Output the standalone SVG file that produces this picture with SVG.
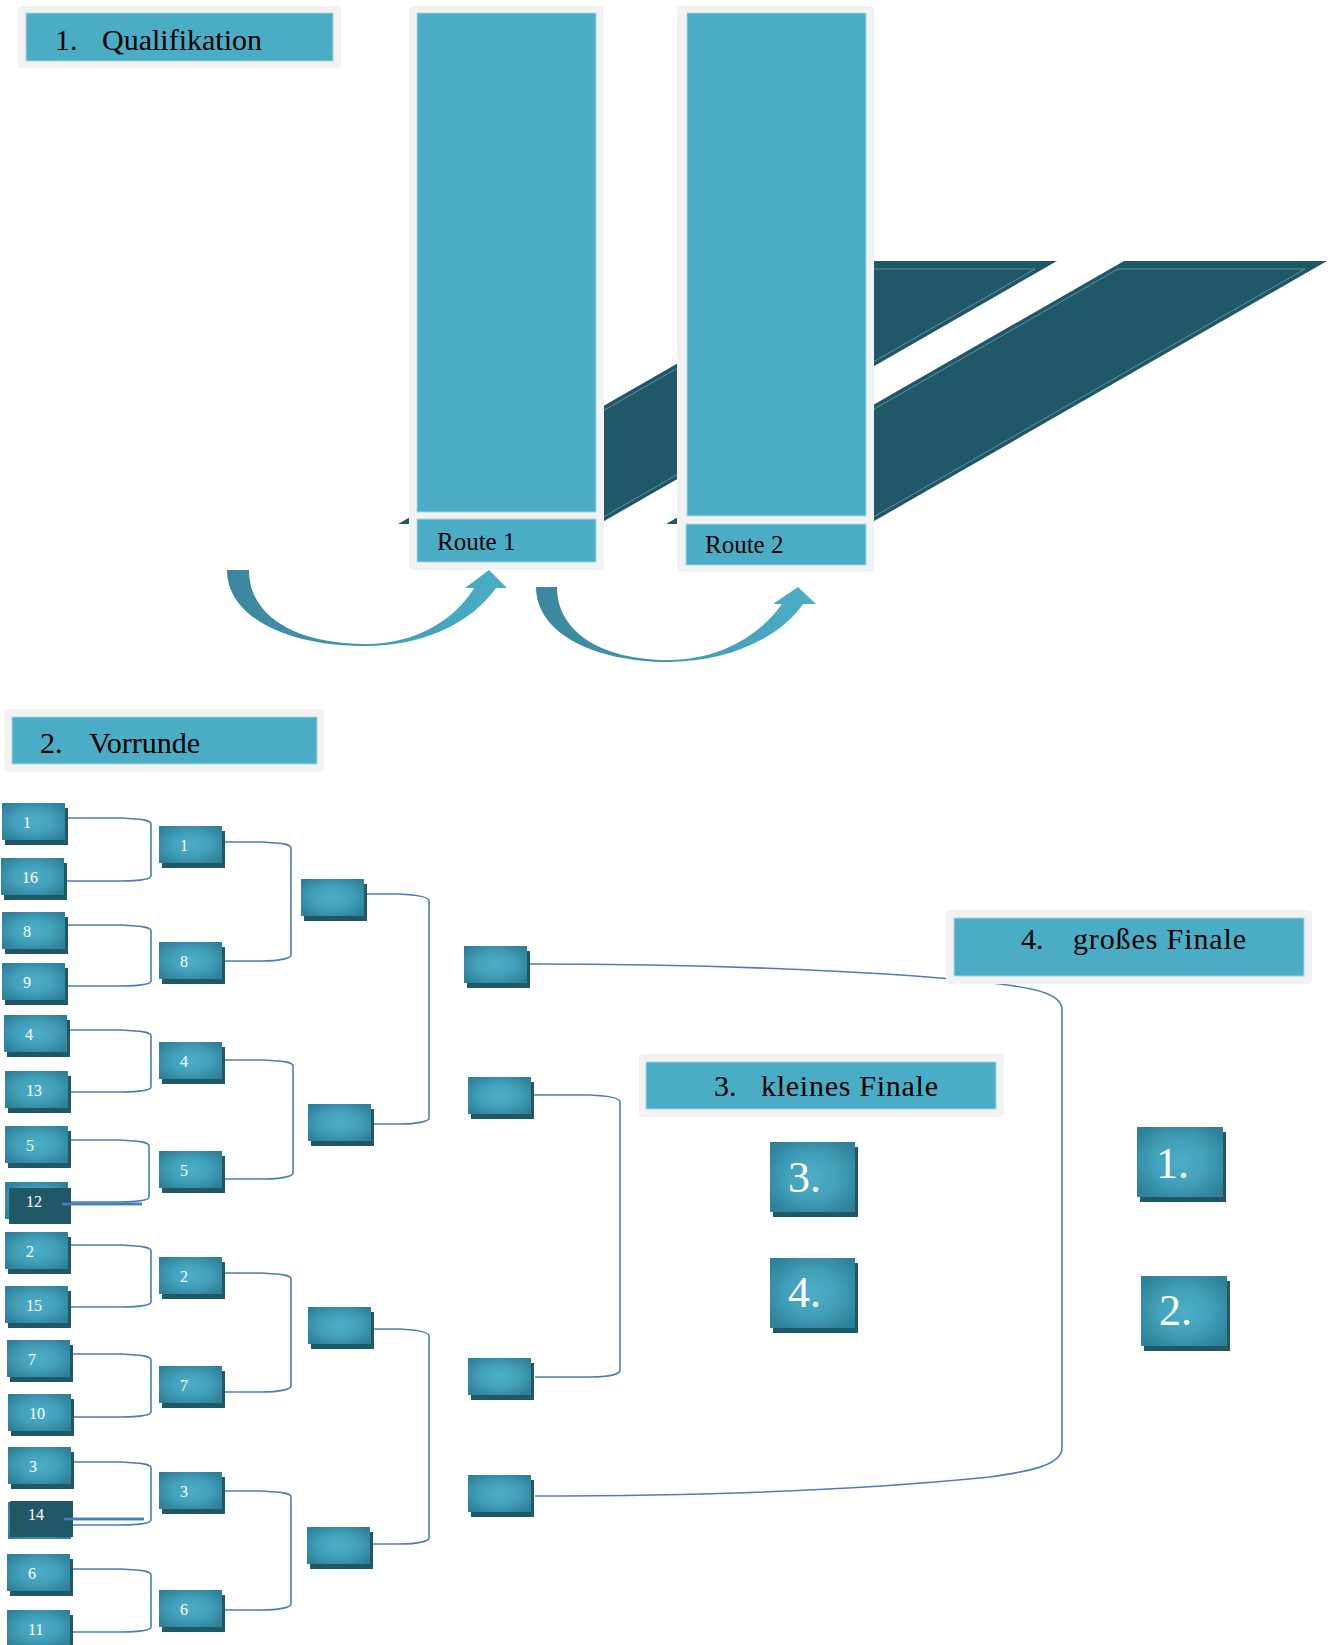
<svg xmlns="http://www.w3.org/2000/svg" width="1333" height="1645" viewBox="0 0 1333 1645">
<defs>
<radialGradient id="ng" cx="0.5" cy="0.5" r="0.62">
<stop offset="0" stop-color="#4BAEC8"/>
<stop offset="0.5" stop-color="#42A0BA"/>
<stop offset="1" stop-color="#2F8199"/>
</radialGradient>
<linearGradient id="ag" x1="0" y1="0" x2="1" y2="0">
<stop offset="0" stop-color="#3A869E"/>
<stop offset="1" stop-color="#4BAEC8"/>
</linearGradient>
<style>
.hdrOuter{fill:#F2F2F2}
.hdrInner{fill:#4BACC6;stroke:#A9D6E3;stroke-width:1}
.hdrText{font-family:"Liberation Serif","Times New Roman",serif;font-size:30px;fill:#000}
.route{font-family:"Liberation Serif","Times New Roman",serif;font-size:25px;fill:#000}
.para{fill:#215868}
.paraIn{fill:none;stroke:#6E9FAD;stroke-width:0.8}
.shadow{fill:#215868}
.node{fill:url(#ng)}
.lbl{font-family:"Liberation Serif","Times New Roman",serif;font-size:16px;fill:#fff}
.big{font-family:"Liberation Serif","Times New Roman",serif;font-size:44px;fill:#fff}
.conn{fill:none;stroke:#4A7EBB;stroke-width:1.6}
.arrow{fill:url(#ag)}
</style>
</defs>
<rect width="1333" height="1645" fill="#fff"/>

<!-- Section 1: Qualifikation -->
<g id="backdrop">
<polygon class="para" points="398,524 856,261 1057,261 599,524"/>
<polygon class="paraIn" points="420,516 850,269 1035,269 605,516"/>
<polygon class="para" points="666,524 1124,261 1327,261 869,524"/>
<polygon class="paraIn" points="688,516 1118,269 1305,269 875,516"/>
</g>

<g id="h1">
<rect class="hdrOuter" x="18" y="6" width="323" height="62" rx="4"/>
<rect class="hdrInner" x="26" y="13" width="307" height="48"/>
<text class="hdrText" x="55" y="50">1.</text>
<text class="hdrText" x="102" y="50">Qualifikation</text>
</g>

<g id="route1">
<rect class="hdrOuter" x="409" y="6" width="195" height="564" rx="4"/>
<rect class="hdrInner" x="417" y="13" width="179" height="499"/>
<rect class="hdrInner" x="417" y="519" width="179" height="43"/>
<text class="route" x="437" y="550">Route 1</text>
</g>

<g id="route2">
<rect class="hdrOuter" x="677" y="6" width="197" height="566" rx="4"/>
<rect class="hdrInner" x="687" y="13" width="179" height="503"/>
<rect class="hdrInner" x="686" y="524" width="180" height="41"/>
<text class="route" x="705" y="553">Route 2</text>
</g>

<g id="arrows">
<path class="arrow" d="M227,570 C227,616 285,646 366,646 C420,646 470,625 496,588 L507,588 L489,570 L465,588 L474,588 C455,620 415,644 366,644 C295,644 249,616 249,570 Z"/>
<path class="arrow" d="M536,587 C536,634 596,662 668,662 C725,662 778,640 803,604 L816,604 L798,587 L773,604 L782,604 C760,635 720,660 668,660 C605,660 557,634 557,587 Z"/>
</g>

<!-- Section 2 header -->
<g id="h2">
<rect class="hdrOuter" x="4" y="709" width="320" height="63" rx="4"/>
<rect class="hdrInner" x="12" y="717" width="305" height="47"/>
<text class="hdrText" x="40" y="753">2.</text>
<text class="hdrText" x="89" y="753">Vorrunde</text>
</g>

<!-- Connectors -->
<g id="connectors">
<path class="conn" d="M67,818 L121,818 C141,819 151,820 151,824 V876 C151,879 141,881 121,881 L67,881"/>
<path class="conn" d="M67,925 L121,925 C141,926 151,927 151,931 V981 C151,984 141,986 121,986 L67,986"/>
<path class="conn" d="M70,1030 L121,1030 C141,1031 151,1032 151,1036 V1087 C151,1090 141,1092 121,1092 L71,1092"/>
<path class="conn" d="M71,1140 L119,1140 C139,1141 149,1142 149,1146 V1197 C149,1200 139,1202 119,1202 L71,1202"/>
<path class="conn" d="M71,1245 L121,1245 C141,1246 151,1247 151,1251 V1302 C151,1305 141,1307 121,1307 L71,1307"/>
<path class="conn" d="M72,1354 L121,1354 C141,1355 151,1356 151,1360 V1412 C151,1415 141,1417 121,1417 L73,1417"/>
<path class="conn" d="M73,1462 L121,1462 C141,1463 151,1464 151,1468 V1520 C151,1523 141,1525 121,1525 L73,1525"/>
<path class="conn" d="M72,1569 L121,1569 C141,1570 151,1571 151,1575 V1627 C151,1630 141,1632 121,1632 L72,1632"/>

<path class="conn" d="M224,842 L261,842 C281,843 291,844 291,848 V955 C291,958 281,961 261,961 L224,961"/>
<path class="conn" d="M224,1060 L263,1060 C283,1061 293,1062 293,1066 V1173 C293,1176 283,1179 263,1179 L224,1179"/>
<path class="conn" d="M224,1273 L261,1273 C281,1274 291,1275 291,1279 V1386 C291,1389 281,1392 261,1392 L224,1392"/>
<path class="conn" d="M224,1491 L261,1491 C281,1492 291,1493 291,1497 V1604 C291,1607 281,1610 261,1610 L224,1610"/>

<path class="conn" d="M367,894 L399,894 C419,895 429,897 429,901 V1118 C429,1121 419,1124 399,1124 L374,1124"/>
<path class="conn" d="M373,1329 L399,1329 C419,1330 429,1332 429,1336 V1538 C429,1541 419,1544 399,1544 L371,1544"/>

<path class="conn" d="M533,1095 L590,1095 C610,1096 620,1098 620,1102 V1370 C620,1374 610,1377 590,1377 L535,1377"/>

<path class="conn" d="M530,964 C720,964 900,972 1000,984 C1040,989 1062,995 1062,1010 V1448 C1062,1466 1025,1472 990,1477 C880,1488 720,1496 535,1496"/>

<line class="conn" x1="62" y1="1204" x2="142" y2="1204" style="stroke-width:2.4"/>
<line class="conn" x1="64" y1="1519" x2="144" y2="1519" style="stroke-width:2.4"/>
</g>

<!-- Round 1 nodes -->
<g id="r1-1"><rect class="shadow" x="5" y="808" width="63" height="37"/><rect class="node" x="2" y="803" width="63" height="37"/><text class="lbl" x="23" y="828">1</text></g>
<g id="r1-16"><rect class="shadow" x="4" y="863" width="63" height="37"/><rect class="node" x="1" y="858" width="63" height="37"/><text class="lbl" x="22" y="883">16</text></g>
<g id="r1-8"><rect class="shadow" x="5" y="917" width="63" height="37"/><rect class="node" x="2" y="912" width="63" height="37"/><text class="lbl" x="23" y="937">8</text></g>
<g id="r1-9"><rect class="shadow" x="5" y="968" width="63" height="37"/><rect class="node" x="2" y="963" width="63" height="37"/><text class="lbl" x="23" y="988">9</text></g>
<g id="r1-4"><rect class="shadow" x="7" y="1020" width="63" height="37"/><rect class="node" x="4" y="1015" width="63" height="37"/><text class="lbl" x="25" y="1040">4</text></g>
<g id="r1-13"><rect class="shadow" x="8" y="1076" width="63" height="37"/><rect class="node" x="5" y="1071" width="63" height="37"/><text class="lbl" x="26" y="1096">13</text></g>
<g id="r1-5"><rect class="shadow" x="8" y="1131" width="63" height="37"/><rect class="node" x="5" y="1126" width="63" height="37"/><text class="lbl" x="26" y="1151">5</text></g>
<g id="r1-12"><rect class="node" x="5" y="1182" width="63" height="37"/><rect class="shadow" x="9" y="1188" width="62" height="36"/><text class="lbl" x="26" y="1207">12</text><line class="conn" x1="62" y1="1204" x2="142" y2="1204" style="stroke-width:2.4"/></g>
<g id="r1-2"><rect class="shadow" x="8" y="1237" width="63" height="37"/><rect class="node" x="5" y="1232" width="63" height="37"/><text class="lbl" x="26" y="1257">2</text></g>
<g id="r1-15"><rect class="shadow" x="8" y="1291" width="63" height="37"/><rect class="node" x="5" y="1286" width="63" height="37"/><text class="lbl" x="26" y="1311">15</text></g>
<g id="r1-7"><rect class="shadow" x="10" y="1345" width="63" height="37"/><rect class="node" x="7" y="1340" width="63" height="37"/><text class="lbl" x="28" y="1365">7</text></g>
<g id="r1-10"><rect class="shadow" x="11" y="1399" width="63" height="37"/><rect class="node" x="8" y="1394" width="63" height="37"/><text class="lbl" x="29" y="1419">10</text></g>
<g id="r1-3"><rect class="shadow" x="11" y="1452" width="63" height="37"/><rect class="node" x="8" y="1447" width="63" height="37"/><text class="lbl" x="29" y="1472">3</text></g>
<g id="r1-14"><rect class="node" x="8" y="1502" width="63" height="37"/><rect class="shadow" x="10" y="1501" width="63" height="36"/><text class="lbl" x="28" y="1520">14</text><line class="conn" x1="64" y1="1519" x2="144" y2="1519" style="stroke-width:2.4"/></g>
<g id="r1-6"><rect class="shadow" x="10" y="1559" width="63" height="37"/><rect class="node" x="7" y="1554" width="63" height="37"/><text class="lbl" x="28" y="1579">6</text></g>
<g id="r1-11"><rect class="shadow" x="10" y="1615" width="63" height="37"/><rect class="node" x="7" y="1610" width="63" height="37"/><text class="lbl" x="28" y="1635">11</text></g>

<!-- Round 2 nodes -->
<g id="r2-1"><rect class="shadow" x="162" y="831" width="63" height="37"/><rect class="node" x="159" y="826" width="63" height="37"/><text class="lbl" x="180" y="851">1</text></g>
<g id="r2-8"><rect class="shadow" x="162" y="947" width="63" height="37"/><rect class="node" x="159" y="942" width="63" height="37"/><text class="lbl" x="180" y="967">8</text></g>
<g id="r2-4"><rect class="shadow" x="162" y="1047" width="63" height="37"/><rect class="node" x="159" y="1042" width="63" height="37"/><text class="lbl" x="180" y="1067">4</text></g>
<g id="r2-5"><rect class="shadow" x="162" y="1156" width="63" height="37"/><rect class="node" x="159" y="1151" width="63" height="37"/><text class="lbl" x="180" y="1176">5</text></g>
<g id="r2-2"><rect class="shadow" x="162" y="1262" width="63" height="37"/><rect class="node" x="159" y="1257" width="63" height="37"/><text class="lbl" x="180" y="1282">2</text></g>
<g id="r2-7"><rect class="shadow" x="162" y="1371" width="63" height="37"/><rect class="node" x="159" y="1366" width="63" height="37"/><text class="lbl" x="180" y="1391">7</text></g>
<g id="r2-3"><rect class="shadow" x="162" y="1477" width="63" height="37"/><rect class="node" x="159" y="1472" width="63" height="37"/><text class="lbl" x="180" y="1497">3</text></g>
<g id="r2-6"><rect class="shadow" x="162" y="1595" width="63" height="37"/><rect class="node" x="159" y="1590" width="63" height="37"/><text class="lbl" x="180" y="1615">6</text></g>

<!-- Round 3 nodes -->
<g id="r3-a"><rect class="shadow" x="304" y="884" width="63" height="37"/><rect class="node" x="301" y="879" width="63" height="37"/></g>
<g id="r3-b"><rect class="shadow" x="311" y="1109" width="63" height="37"/><rect class="node" x="308" y="1104" width="63" height="37"/></g>
<g id="r3-c"><rect class="shadow" x="311" y="1312" width="63" height="37"/><rect class="node" x="308" y="1307" width="63" height="37"/></g>
<g id="r3-d"><rect class="shadow" x="310" y="1532" width="63" height="37"/><rect class="node" x="307" y="1527" width="63" height="37"/></g>

<!-- Round 4 nodes -->
<g id="r4-a"><rect class="shadow" x="467" y="951" width="63" height="37"/><rect class="node" x="464" y="946" width="63" height="37"/></g>
<g id="r4-b"><rect class="shadow" x="471" y="1082" width="63" height="37"/><rect class="node" x="468" y="1077" width="63" height="37"/></g>
<g id="r4-c"><rect class="shadow" x="471" y="1363" width="63" height="37"/><rect class="node" x="468" y="1358" width="63" height="37"/></g>
<g id="r4-d"><rect class="shadow" x="471" y="1480" width="63" height="37"/><rect class="node" x="468" y="1475" width="63" height="37"/></g>

<!-- Finals headers -->
<g id="h3">
<rect class="hdrOuter" x="639" y="1054" width="365" height="63" rx="4"/>
<rect class="hdrInner" x="646" y="1062" width="350" height="47"/>
<text class="hdrText" x="714" y="1096">3.</text>
<text class="hdrText" x="761" y="1096" textLength="177" lengthAdjust="spacing">kleines Finale</text>
</g>
<g id="h4">
<rect class="hdrOuter" x="946" y="910" width="366" height="74" rx="4"/>
<rect class="hdrInner" x="954" y="918" width="350" height="58"/>
<text class="hdrText" x="1021" y="949">4.</text>
<text class="hdrText" x="1073" y="949" textLength="173" lengthAdjust="spacing">großes Finale</text>
</g>

<!-- Placings -->
<g id="p3"><rect class="shadow" x="773" y="1147" width="85" height="70"/><rect class="node" x="770" y="1142" width="85" height="70"/><text class="big" x="788" y="1192">3.</text></g>
<g id="p4"><rect class="shadow" x="773" y="1263" width="85" height="70"/><rect class="node" x="770" y="1258" width="85" height="70"/><text class="big" x="788" y="1307">4.</text></g>
<g id="p1"><rect class="shadow" x="1140" y="1132" width="86" height="70"/><rect class="node" x="1137" y="1127" width="86" height="70"/><text class="big" x="1156" y="1178">1.</text></g>
<g id="p2"><rect class="shadow" x="1144" y="1281" width="86" height="70"/><rect class="node" x="1141" y="1276" width="86" height="70"/><text class="big" x="1159" y="1325">2.</text></g>
</svg>
